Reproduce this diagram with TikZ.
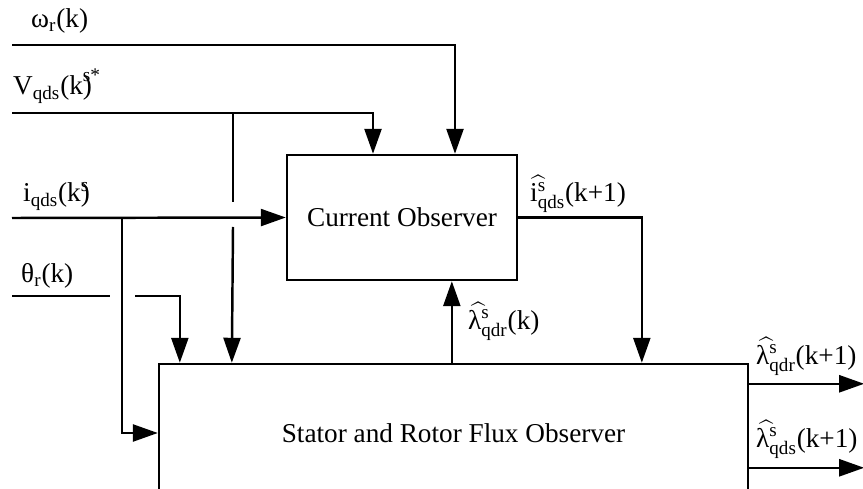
\documentclass[tikz,border=0pt]{standalone}
\usepackage{amsmath}
\usepackage{fontspec}
\setmainfont{Liberation Serif}
\usetikzlibrary{arrows.meta, positioning, calc}

\begin{document}
\begin{tikzpicture}[
  x=0.02cm, y=-0.02cm,
  font=\fontsize{15.5}{18}\selectfont,
  line width=1.4pt,
  block/.style={draw, line width=1.4pt, inner sep=0pt, align=center},
  arr/.style={-{Triangle[length=0.5cm, width=0.34cm]}},
  lbl/.style={anchor=base west, inner sep=0pt}
]
  \useasboundingbox (0,0) rectangle (863,489);
  \clip (0,0) rectangle (863,489);

  % Blocks
  \node[block, minimum width=4.6cm, minimum height=2.5cm] (co)
    at (402,217.5) {Current Observer};
  \node[block, minimum width=11.78cm, minimum height=2.76cm] (fo)
    at (453.5,433) {Stator and Rotor Flux Observer};

  % Input ends
  \coordinate (wIn) at (12,45);
  \coordinate (vIn) at (12,113);
  \coordinate (iIn) at (12,218);
  \coordinate (tIn) at (12,296);
  \coordinate (vSplit) at (233,113);
  \coordinate (iSplit) at (122,218);
  \coordinate (tGap) at (135,296);

  % Inputs to the current observer
  \draw[arr] (wIn) -| ($(co.north)+(53,0)$);
  \draw[arr] (vIn) -| ($(co.north)+(-29,0)$);
  \draw[arr] (iIn) -- (co.west);

  % Inputs to the flux observer
  \draw (vSplit) -- ++(0,89);
  \draw[arr] ($(vSplit)+(0,114)$) -- ($(fo.north west)+(74,0)$);
  \draw[arr] (iSplit) |- (fo.west);
  \draw (tIn) -- ++(98,0);
  \draw[arr] (tGap) -| ($(fo.north west)+(22,0)$);

  % Between the observers
  \draw[arr] ($(fo.north west)+(294,0)$) coordinate (lamUp)
    -- (lamUp |- co.south);
  \draw[arr] (co.east) -| ($(fo.north west)+(484,0)$);

  % Outputs
  \draw[arr] ($(fo.north east)+(0,21)$) -- ++(115,0);
  \draw[arr] ($(fo.north east)+(0,105)$) -- ++(115,0);

  % Labels
  \node[lbl] (wLbl) at (30,28) {ω\textsubscript{r}(k)};
  \node[lbl] (vLbl) at (12,95)
    {V\textsubscript{qds}(k\rlap{\raisebox{0.5em}{\fontsize{11}{11}\selectfont s*}})};
  \node[lbl] (iLbl) at (22,202)
    {i\textsubscript{qds}(k\rlap{\raisebox{0.4em}{\fontsize{11}{11}\selectfont s}})};
  \node[lbl] (tLbl) at (20,283) {θ\textsubscript{r}(k)};
  \node[lbl] (iHat) at (529,202)
    {\rlap{$\widehat{\phantom{\text{i}^{\text{s}}}}$}$\text{i}^{\text{s}}_{\text{qds}}$(k+1)};
  \node[lbl] (lamK) at (467,330)
    {\rlap{$\widehat{\phantom{\text{λ}^{\text{s}}}}$}$\text{λ}^{\text{s}}_{\text{qdr}}$(k)};
  \node[lbl] (lamR) at (755,365)
    {\rlap{$\widehat{\phantom{\text{λ}^{\text{s}}}}$}$\text{λ}^{\text{s}}_{\text{qdr}}$(k+1)};
  \node[lbl] (lamS) at (755,448)
    {\rlap{$\widehat{\phantom{\text{λ}^{\text{s}}}}$}$\text{λ}^{\text{s}}_{\text{qds}}$(k+1)};
\end{tikzpicture}
\end{document}
